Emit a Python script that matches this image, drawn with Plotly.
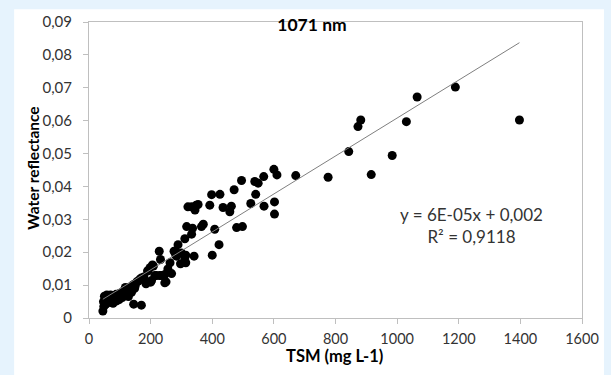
import plotly.graph_objects as go

# ---- data ----
tsm = [45, 48, 50, 52, 47, 55, 50, 58, 62, 65, 60, 55, 68, 72, 75, 70, 80, 85, 78, 90,
       95, 88, 100, 105, 110, 98, 115, 120, 108, 125, 130, 118, 135, 140, 128, 145, 150, 138,
       155, 160, 165, 148, 170, 178, 190, 145, 170, 185, 200, 192, 209,
       198, 203, 206, 219, 228, 232, 235, 246, 246, 250, 263, 268, 276, 282, 289, 297, 300,
       311, 311, 314, 314, 284, 279, 214, 230, 256,
       317, 365, 371, 333, 336, 341, 400, 422, 408, 479, 498, 321, 333, 344, 348, 354,
       392, 398, 425, 435, 457, 462, 471, 495, 525, 538, 541, 549, 567, 568,
       600, 610, 602, 602, 671, 776, 843, 873, 882, 916, 984, 1030, 1065, 1189, 1397]
refl = [0.0021, 0.0035, 0.0045, 0.0055, 0.0050, 0.0060, 0.0066, 0.0070, 0.0068, 0.0060,
        0.0052, 0.0042, 0.0048, 0.0055, 0.0062, 0.0070, 0.0068, 0.0060, 0.0045, 0.0052,
        0.0062, 0.0072, 0.0075, 0.0068, 0.0080, 0.0056, 0.0085, 0.0078, 0.0062, 0.0072,
        0.0088, 0.0093, 0.0095, 0.0085, 0.0065, 0.0102, 0.0098, 0.0078,
        0.0110, 0.0112, 0.0118, 0.0090, 0.0122, 0.0125, 0.0143, 0.0042, 0.0039, 0.0104,
        0.0109, 0.0144, 0.0158,
        0.0153, 0.0114, 0.0161, 0.0129, 0.0203, 0.0178, 0.0129, 0.0132, 0.0107, 0.0110,
        0.0168, 0.0135, 0.0203, 0.0191, 0.0223, 0.0165, 0.0198,
        0.0241, 0.0183, 0.0191, 0.0168, 0.0188, 0.0203, 0.0129, 0.0129, 0.0149,
        0.0278, 0.0278, 0.0285, 0.0255, 0.0273, 0.0188, 0.0191, 0.0223, 0.0270, 0.0275,
        0.0278, 0.0338, 0.0338, 0.0328, 0.0343, 0.0345,
        0.0343, 0.0375, 0.0376, 0.0336, 0.0323, 0.0340, 0.0390, 0.0418, 0.0348, 0.0415,
        0.0376, 0.0410, 0.0430, 0.0340,
        0.0452, 0.0435, 0.0353, 0.0316, 0.0433, 0.0428, 0.0506, 0.0582, 0.0602, 0.0436,
        0.0494, 0.0597, 0.0672, 0.0702, 0.0602]

trend_slope = 5.77e-5
trend_intercept = 0.0031
trend_label = "y = 6E-05x + 0,002<br>R² = 0,9118"

x_tickvals = [0, 200, 400, 600, 800, 1000, 1200, 1400, 1600]
x_ticktext = ["0", "200", "400", "600", "800", "1000", "1200", "1400", "1600"]
y_tickvals = [0, 0.01, 0.02, 0.03, 0.04, 0.05, 0.06, 0.07, 0.08, 0.09]
y_ticktext = ["0", "0,01", "0,02", "0,03", "0,04", "0,05", "0,06", "0,07", "0,08", "0,09"]

title_text = "1071 nm"
x_title = "TSM (mg L-1)"
y_title = "Water reflectance"

# ---- figure ----
W, H = 611, 375
L, R, T, B = 89, 28, 17, 57
pw, ph = W - L - R, H - T - B

def px_x(p):
    return (p - L) / pw

def px_y(p):
    return 1 - (p - T) / ph

FONT = "Lato, Carlito, Calibri, sans-serif"
TXT = "#333333"
AX = "#bfbfbf"
BG = "#e6f3fd"

x_min, x_max = min(tsm), max(tsm)
fig = go.Figure()
fig.add_trace(go.Scatter(
    x=tsm, y=refl, mode="markers",
    marker=dict(color="black", size=9, line=dict(width=0)),
    hoverinfo="x+y", showlegend=False))
fig.add_trace(go.Scatter(
    x=[x_min, x_max],
    y=[trend_intercept + trend_slope * x_min, trend_intercept + trend_slope * x_max],
    mode="lines", line=dict(color="#7f7f7f", width=1),
    hoverinfo="skip", showlegend=False))

fig.update_layout(
    width=W, height=H,
    margin=dict(l=L, r=R, t=T, b=B),
    paper_bgcolor=BG,
    plot_bgcolor="white",
    font=dict(family=FONT, size=14, color=TXT),
    title=dict(text="<b>" + title_text + "</b>", xref="container", yref="container",
               x=312 / W, y=1 - 25 / H, xanchor="center", yanchor="middle",
               font=dict(family=FONT, size=17.5, color="black")),
    xaxis=dict(range=[0, 1600], tickvals=x_tickvals, ticktext=x_ticktext,
               showgrid=False, zeroline=False, showline=True, linecolor=AX, linewidth=1,
               mirror=True, ticks="outside", ticklen=5, tickcolor=AX,
               ticklabelstandoff=3, tickfont=dict(size=14.5, color=TXT)),
    yaxis=dict(range=[0, 0.09], tickvals=y_tickvals, ticktext=y_ticktext,
               showgrid=False, zeroline=False, showline=True, linecolor=AX, linewidth=1,
               mirror=True, ticks="outside", ticklen=5, tickcolor=AX,
               ticklabelstandoff=8, tickfont=dict(size=15, color=TXT)),
    shapes=[dict(type="rect", xref="paper", yref="paper", layer="below",
                 x0=px_x(14), x1=px_x(605), y0=px_y(380), y1=px_y(4),
                 fillcolor="white", line=dict(width=0))],
    annotations=[
        dict(text="<b>" + x_title + "</b>", xref="paper", yref="paper",
             x=px_x(335), y=px_y(357), xanchor="center", yanchor="middle",
             showarrow=False, font=dict(family=FONT, size=16.5, color="black")),
        dict(text="<b>" + y_title + "</b>", xref="paper", yref="paper",
             x=px_x(32), y=px_y(166), xanchor="center", yanchor="middle",
             textangle=-90, showarrow=False,
             font=dict(family=FONT, size=15.5, color="black")),
        dict(text=trend_label, xref="paper", yref="paper",
             x=px_x(472), y=px_y(224), xanchor="center", yanchor="middle",
             align="center", showarrow=False,
             font=dict(family=FONT, size=17, color=TXT)),
    ],
)

fig.write_html(
    "out.html",
    config={"displayModeBar": False},
    post_script="document.body.style.margin='0';document.body.style.background='%s';" % BG,
)
